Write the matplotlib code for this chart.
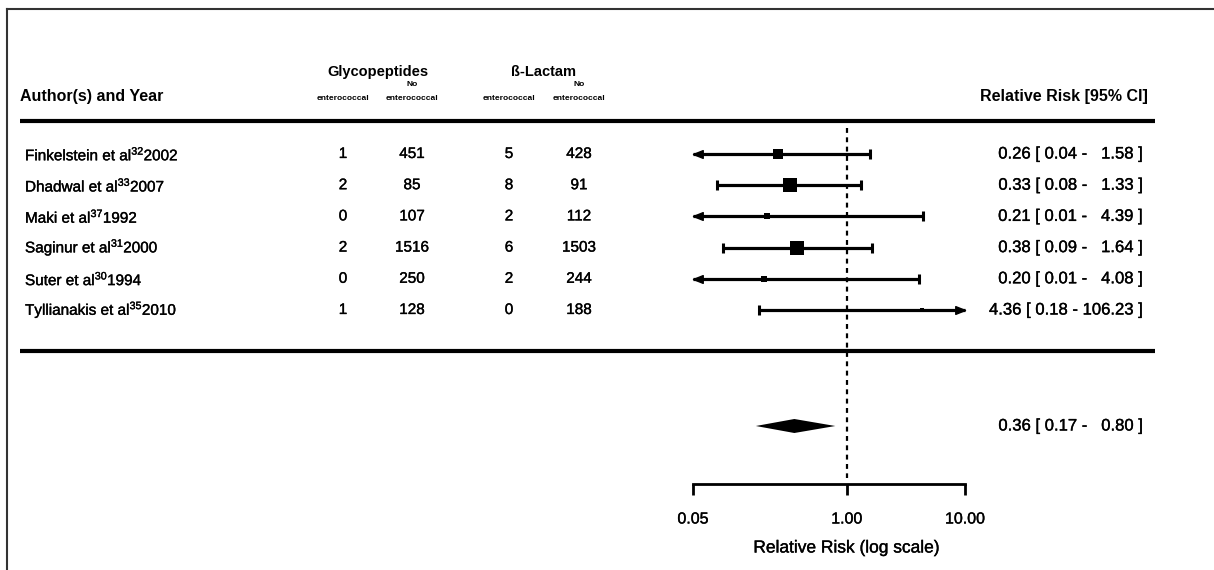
import numpy as np
import matplotlib

matplotlib.use("Agg")
import matplotlib.pyplot as plt
import matplotlib.transforms as mtransforms
import matplotlib.patheffects as pe
from matplotlib.lines import Line2D
from matplotlib.path import Path

plt.rcParams["font.family"] = "Liberation Sans"
plt.rcParams["mathtext.fontset"] = "custom"
plt.rcParams["mathtext.rm"] = "Liberation Sans"
plt.rcParams["mathtext.it"] = "Liberation Sans:italic"
plt.rcParams["mathtext.bf"] = "Liberation Sans:bold"

# Study data
authors = ["Finkelstein", "Dhadwal", "Maki", "Saginur", "Suter", "Tyllianakis"]
refs = ["32", "33", "37", "31", "30", "35"]
years = ["2002", "2007", "1992", "2000", "1994", "2010"]
glyco_entero = [1, 2, 0, 2, 0, 1]
glyco_no_entero = [451, 85, 107, 1516, 250, 128]
lactam_entero = [5, 8, 2, 6, 2, 0]
lactam_no_entero = [428, 91, 112, 1503, 244, 188]
rr = [0.26, 0.33, 0.21, 0.38, 0.20, 4.36]
ci_low = [0.04, 0.08, 0.01, 0.09, 0.01, 0.18]
ci_high = [1.58, 1.33, 4.39, 1.64, 4.08, 106.23]

# Pooled estimate
pooled_rr = 0.36
pooled_low = 0.17
pooled_high = 0.80

axis_ticks = [0.05, 1.00, 10.00]

# Page geometry (pixels)
W, H = 1214, 570
X_LO_PX, X_HI_PX = 693, 965  # where the first and last axis ticks sit
ROW_TOP, ROW_STEP = 154, 31.2
HEADER_RULE_Y = 121
BOTTOM_RULE_Y = 351
SUMMARY_Y = 426
AXIS_Y = 484
RULE_X0, RULE_X1 = 20, 1155
CI_TEXT_X = 1142

FS_ROW = 11
FS_HEAD = 11.5
FS_CI = 12

# slightly heavier strokes for the regular-weight text
heavy = [pe.withStroke(linewidth=0.25, foreground="black")]

fig = plt.figure(figsize=(W / 100, H / 100), dpi=100)
fig.patch.set_facecolor("white")
ax = fig.add_axes([0, 0, 1, 1])
ax.axis("off")
ax.set_xscale("log")

# log x-range chosen so the axis ticks land at the pixel anchors
alim = (axis_ticks[0], axis_ticks[-1])
ppd = (X_HI_PX - X_LO_PX) / np.log10(alim[1] / alim[0])
ax.set_xlim(10 ** (np.log10(alim[0]) - X_LO_PX / ppd),
            10 ** (np.log10(alim[1]) + (W - X_HI_PX) / ppd))
ax.set_ylim(H, 0)

tr = mtransforms.blended_transform_factory(ax.transAxes, ax.transData)


def fx(px):
    return px / W


def ci_label(est, lo, hi):
    return f"{est:.2f} [{lo:5.2f} - {hi:6.2f} ]"


k = len(authors)
rows_y = ROW_TOP + ROW_STEP * np.arange(k)

# Header
ax.text(fx(20), 96, "Author(s) and Year", transform=tr, fontsize=FS_HEAD,
        fontweight="bold", ha="left", va="center")
ax.text(fx(378), 72, "Glycopeptides", transform=tr, fontsize=10.5,
        fontweight="bold", ha="center", va="center")
ax.text(fx(543), 72, "ß-Lactam", transform=tr, fontsize=10.5,
        fontweight="bold", ha="center", va="center")
ax.text(fx(1148), 96, "Relative Risk [95% CI]", transform=tr, fontsize=FS_HEAD,
        fontweight="bold", ha="right", va="center")
col_x = [343, 412, 509, 579]
for i, cx in enumerate(col_x):
    if i % 2 == 1:
        ax.text(fx(cx), 85, "No", transform=tr, fontsize=6,
                fontweight="bold", ha="center", va="center")
    ax.text(fx(cx), 99, "enterococcal", transform=tr, fontsize=6,
            fontweight="bold", ha="center", va="center")

# Horizontal rules
for ry in (HEADER_RULE_Y, BOTTOM_RULE_Y):
    ax.plot([fx(RULE_X0), fx(RULE_X1)], [ry, ry], transform=tr,
            color="black", lw=3.0, solid_capstyle="butt")

# Reference line at RR = 1
ax.vlines(1.0, 128, AXIS_Y - 6, colors="black", lw=1.6,
          linestyles=(0, (2.2, 2.0)))

# Study weights -> square sizes
se = (np.log(ci_high) - np.log(ci_low)) / (2 * 1.96)
w = 1 / se ** 2
psize = (w - w.min()) / (w.max() - w.min()) + 0.5

arrow_left = Path([(0, 0), (2.0, 0.8), (2.0, -0.8), (0, 0)],
                  [Path.MOVETO, Path.LINETO, Path.LINETO, Path.CLOSEPOLY])
arrow_right = Path([(0, 0), (-2.0, 0.8), (-2.0, -0.8), (0, 0)],
                   [Path.MOVETO, Path.LINETO, Path.LINETO, Path.CLOSEPOLY])

for i in range(k):
    y = rows_y[i]
    lo = max(ci_low[i], alim[0])
    hi = min(ci_high[i], alim[1])
    ax.plot([lo, hi], [y, y], color="black", lw=2.3, solid_capstyle="butt")
    if ci_low[i] < alim[0]:
        ax.plot(lo, y, marker=arrow_left, ms=14, color="black")
    else:
        ax.plot(lo, y, marker="|", ms=7, mew=2.2, color="black")
    if ci_high[i] > alim[1]:
        ax.plot(hi, y, marker=arrow_right, ms=14, color="black")
    else:
        ax.plot(hi, y, marker="|", ms=7, mew=2.2, color="black")
    ax.plot(rr[i], y, marker="s", ms=7.0 * psize[i], color="black", mew=0)

    label = f"{authors[i]} et al$^{{{refs[i]}}}${years[i]}"
    ax.text(fx(25), y, label, transform=tr, fontsize=FS_ROW, ha="left",
            va="center", path_effects=heavy)
    for cx, val in zip(col_x, (glyco_entero[i], glyco_no_entero[i],
                               lactam_entero[i], lactam_no_entero[i])):
        ax.text(fx(cx), y, str(val), transform=tr, fontsize=FS_ROW,
                ha="center", va="center", path_effects=heavy)
    ax.text(fx(CI_TEXT_X), y, ci_label(rr[i], ci_low[i], ci_high[i]),
            transform=tr, fontsize=FS_CI, ha="right", va="center",
            path_effects=heavy)

# Pooled diamond
ax.fill([pooled_low, pooled_rr, pooled_high, pooled_rr],
        [SUMMARY_Y, SUMMARY_Y - 7, SUMMARY_Y, SUMMARY_Y + 7],
        color="black", lw=0)
ax.text(fx(CI_TEXT_X), SUMMARY_Y, ci_label(pooled_rr, pooled_low, pooled_high),
        transform=tr, fontsize=FS_CI, ha="right", va="center", path_effects=heavy)

# Bottom axis
ax.plot([alim[0], alim[1]], [AXIS_Y, AXIS_Y], color="black", lw=2.0)
ax.vlines(axis_ticks, AXIS_Y, AXIS_Y + 11, colors="black", lw=2.0)
for t in axis_ticks:
    ax.text(t, AXIS_Y + 35, f"{t:.2f}", fontsize=11.5, ha="center",
            va="center", path_effects=heavy)
ax.text(1.0, AXIS_Y + 64, "Relative Risk (log scale)", fontsize=12.5,
        ha="center", va="center", path_effects=heavy)

# Page frame along the top and left edges
fig.add_artist(Line2D([7 / W, 1], [1 - 9 / H, 1 - 9 / H], color="#333333", lw=1.5))
fig.add_artist(Line2D([7 / W, 7 / W], [0, 1 - 9 / H], color="#333333", lw=1.5))

fig.savefig("out.png", dpi=100, facecolor="white")
